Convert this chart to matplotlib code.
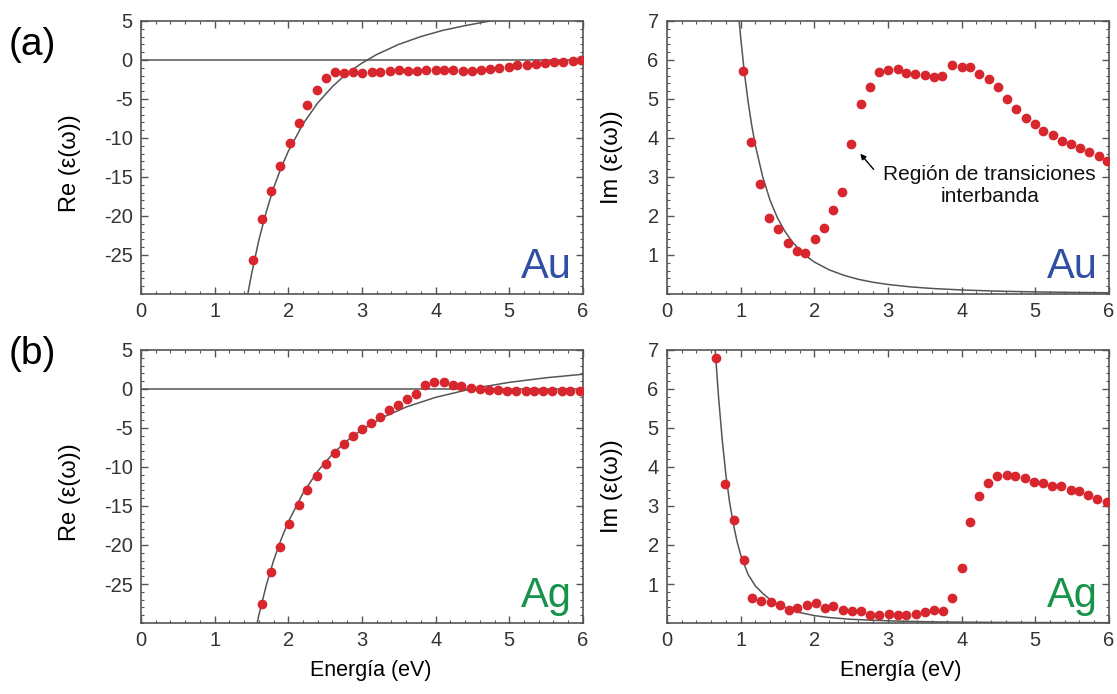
"""Dielectric function of Au and Ag: measured data (red dots) vs Drude model (grey line)."""

import matplotlib
matplotlib.use("Agg")
import matplotlib.pyplot as plt
from matplotlib.ticker import MultipleLocator

plt.rcParams["font.family"] = ["Liberation Sans", "DejaVu Sans"]
plt.rcParams["axes.unicode_minus"] = False

# Au, real part - measured
au_re_x = [1.52, 1.64, 1.76, 1.89, 2.02, 2.14, 2.26, 2.39, 2.51, 2.63, 2.76, 2.88,
           3.00, 3.13, 3.25, 3.38, 3.50, 3.62, 3.75, 3.87, 4.00, 4.12, 4.24, 4.37,
           4.49, 4.62, 4.74, 4.86, 4.99, 5.11, 5.24, 5.36, 5.48, 5.61, 5.73, 5.86, 5.98]
au_re_y = [-25.7, -20.4, -16.8, -13.6, -10.6, -8.1, -5.8, -3.9, -2.3, -1.6, -1.7, -1.6,
           -1.66, -1.6, -1.57, -1.36, -1.28, -1.36, -1.36, -1.23, -1.23, -1.23, -1.32, -1.36,
           -1.4, -1.32, -1.19, -1.02, -0.85, -0.68, -0.6, -0.47, -0.34, -0.3, -0.22, -0.12, -0.05]
# Au, real part - Drude
au_re_fit_x = [1.45, 1.5, 1.6, 1.7, 1.8, 1.9, 2.0, 2.2, 2.4, 2.6, 2.8, 3.0, 3.2, 3.5,
               3.8, 4.1, 4.4, 4.8]
au_re_fit_y = [-30.0, -27.5, -23.1, -19.5, -16.4, -13.9, -11.7, -8.2, -5.5, -3.4, -1.7,
               -0.4, 0.7, 2.0, 3.0, 3.8, 4.4, 5.1]

# Au, imaginary part - measured
au_im_x = [1.03, 1.14, 1.26, 1.39, 1.51, 1.64, 1.76, 1.88, 2.01, 2.13, 2.26, 2.38,
           2.50, 2.63, 2.75, 2.88, 3.00, 3.13, 3.25, 3.37, 3.50, 3.62, 3.74, 3.87,
           4.00, 4.12, 4.24, 4.37, 4.49, 4.62, 4.74, 4.87, 4.99, 5.11, 5.24, 5.36,
           5.48, 5.61, 5.73, 5.86, 5.98]
au_im_y = [5.72, 3.89, 2.83, 1.95, 1.66, 1.30, 1.10, 1.06, 1.41, 1.70, 2.15, 2.62,
           3.84, 4.87, 5.31, 5.68, 5.74, 5.76, 5.67, 5.63, 5.62, 5.57, 5.60, 5.86,
           5.82, 5.81, 5.63, 5.51, 5.30, 5.00, 4.75, 4.51, 4.37, 4.19, 4.08, 3.92,
           3.85, 3.74, 3.63, 3.53, 3.42]
# Au, imaginary part - Drude
au_im_fit_x = [0.98, 1.0, 1.05, 1.1, 1.15, 1.2, 1.3, 1.4, 1.5, 1.6, 1.7, 1.8, 1.9, 2.0,
               2.2, 2.4, 2.6, 2.8, 3.0, 3.3, 3.6, 4.0, 4.5, 5.0, 5.5, 6.0]
au_im_fit_y = [7.0, 6.59, 5.69, 4.95, 4.33, 3.81, 3.0, 2.40, 1.95, 1.61, 1.34, 1.13,
               0.96, 0.82, 0.62, 0.48, 0.375, 0.30, 0.244, 0.183, 0.141, 0.103, 0.072,
               0.053, 0.040, 0.031]

# Ag, real part - measured
ag_re_x = [1.64, 1.77, 1.89, 2.01, 2.14, 2.26, 2.39, 2.51, 2.63, 2.75, 2.88, 3.00,
           3.12, 3.24, 3.37, 3.49, 3.61, 3.73, 3.86, 3.98, 4.11, 4.23, 4.35, 4.48,
           4.60, 4.72, 4.85, 4.97, 5.09, 5.22, 5.34, 5.46, 5.58, 5.71, 5.83, 5.96]
ag_re_y = [-27.6, -23.5, -20.2, -17.3, -14.9, -12.9, -11.1, -9.64, -8.23, -7.07, -6.08,
           -5.18, -4.36, -3.54, -2.73, -2.04, -1.31, -0.67, 0.49, 0.88, 0.88, 0.54, 0.32,
           0.15, -0.02, -0.11, -0.19, -0.24, -0.24, -0.24, -0.28, -0.28, -0.28, -0.28,
           -0.28, -0.28]
# Ag, real part - Drude
ag_re_fit_x = [1.58, 1.6, 1.7, 1.8, 1.9, 2.0, 2.2, 2.4, 2.6, 2.8, 3.0, 3.3, 3.6, 4.0,
               4.5, 5.0, 5.5, 6.0]
ag_re_fit_y = [-29.9, -29.0, -25.2, -22.0, -19.34, -17.04, -13.34, -10.53, -8.34, -6.61,
               -5.21, -3.56, -2.31, -1.07, 0.05, 0.85, 1.44, 1.89]

# Ag, imaginary part - measured
ag_im_x = [0.66, 0.79, 0.91, 1.04, 1.16, 1.28, 1.41, 1.53, 1.65, 1.77, 1.90, 2.02,
           2.14, 2.26, 2.39, 2.51, 2.64, 2.76, 2.88, 3.01, 3.13, 3.25, 3.38, 3.50,
           3.62, 3.75, 3.87, 4.00, 4.12, 4.24, 4.36, 4.48, 4.61, 4.73, 4.86, 4.98,
           5.10, 5.23, 5.35, 5.48, 5.59, 5.72, 5.84, 5.97]
ag_im_y = [6.79, 3.57, 2.64, 1.61, 0.635, 0.557, 0.532, 0.471, 0.326, 0.394, 0.454,
           0.523, 0.386, 0.437, 0.343, 0.317, 0.30, 0.214, 0.205, 0.24, 0.214, 0.197,
           0.24, 0.29, 0.326, 0.30, 0.644, 1.40, 2.60, 3.25, 3.58, 3.77, 3.80, 3.76,
           3.71, 3.62, 3.59, 3.52, 3.50, 3.41, 3.38, 3.27, 3.19, 3.09]
# Ag, imaginary part - Drude
ag_im_fit_x = [0.655, 0.70, 0.75, 0.80, 0.85, 0.90, 0.95, 1.0, 1.1, 1.2, 1.3, 1.4, 1.5,
               1.6, 1.8, 2.0, 2.2, 2.5, 2.8, 3.2, 3.6, 4.0, 4.5, 5.0, 6.0]
ag_im_fit_y = [7.0, 5.8, 4.7, 3.8, 3.1, 2.55, 2.1, 1.75, 1.25, 0.95, 0.76, 0.60, 0.48,
               0.40, 0.27, 0.19, 0.14, 0.095, 0.07, 0.045, 0.03, 0.022, 0.016, 0.012,
               0.008]

red = "#d7262e"
grey = "#555555"
au_col = "#2e4fa3"
ag_col = "#17934b"

fig = plt.figure(figsize=(11.17, 6.94), dpi=100)
W, H = 0.3957, 0.3934
ax_a_re = fig.add_axes([0.1262, 0.5764, W, H])
ax_a_im = fig.add_axes([0.5971, 0.5764, W, H])
ax_b_re = fig.add_axes([0.1262, 0.1023, W, H])
ax_b_im = fig.add_axes([0.5971, 0.1023, W, H])


def style(ax, kind):
    ax.set_xlim(0, 6)
    ax.xaxis.set_major_locator(MultipleLocator(1))
    ax.xaxis.set_minor_locator(MultipleLocator(0.2))
    if kind == "re":
        ax.set_ylim(-30, 5)
        ax.set_yticks([5, 0, -5, -10, -15, -20, -25])
        ax.yaxis.set_minor_locator(MultipleLocator(1))
        ax.axhline(0, color=grey, lw=1.1, zorder=1)
        ax.set_ylabel("Re (ε(ω))", fontsize=17)
        ax.yaxis.set_label_coords(-0.135, 0.48)
    else:
        ax.set_ylim(0, 7)
        ax.set_yticks([1, 2, 3, 4, 5, 6, 7])
        ax.yaxis.set_minor_locator(MultipleLocator(0.2))
        ax.set_ylabel("Im (ε(ω))", fontsize=17)
        ax.yaxis.set_label_coords(-0.10, 0.5)
    ax.tick_params(which="both", direction="in", top=True, right=True, color=grey,
                   labelsize=14.5, labelcolor="#333333")
    ax.tick_params(which="major", length=5, width=1, pad=6)
    ax.tick_params(which="minor", length=2.5, width=0.8)
    for sp in ax.spines.values():
        sp.set_color(grey)
        sp.set_linewidth(1.2)


for ax, kind in [(ax_a_re, "re"), (ax_a_im, "im"), (ax_b_re, "re"), (ax_b_im, "im")]:
    style(ax, kind)

ax_a_re.plot(au_re_fit_x, au_re_fit_y, color=grey, lw=1.1, zorder=2)
ax_a_re.plot(au_re_x, au_re_y, "o", color=red, ms=6, zorder=3)
ax_a_im.plot(au_im_fit_x, au_im_fit_y, color=grey, lw=1.1, zorder=2)
ax_a_im.plot(au_im_x, au_im_y, "o", color=red, ms=6, zorder=3)
ax_b_re.plot(ag_re_fit_x, ag_re_fit_y, color=grey, lw=1.1, zorder=2)
ax_b_re.plot(ag_re_x, ag_re_y, "o", color=red, ms=6, zorder=3)
ax_b_im.plot(ag_im_fit_x, ag_im_fit_y, color=grey, lw=1.1, zorder=2)
ax_b_im.plot(ag_im_x, ag_im_y, "o", color=red, ms=6, zorder=3)

# metal labels
for ax, txt, col in [(ax_a_re, "Au", au_col), (ax_a_im, "Au", au_col),
                     (ax_b_re, "Ag", ag_col), (ax_b_im, "Ag", ag_col)]:
    ax.text(0.975, 0.06, txt, transform=ax.transAxes, ha="right", va="baseline",
            fontsize=30, color=col)

# annotation for interband region
ax_a_im.annotate("", xy=(2.6, 3.65), xytext=(2.83, 3.14),
                 arrowprops=dict(arrowstyle="-|>", color="black", lw=1.0,
                                 mutation_scale=8))
ax_a_im.text(4.38, 2.79, "Región de transiciones\ninterbanda", ha="center",
             va="center", multialignment="center", fontsize=15, color="#111111",
             linespacing=1.2)

for ax in (ax_b_re, ax_b_im):
    ax.set_xlabel("Energía (eV)", fontsize=15.5)
ax_b_re.xaxis.set_label_coords(0.52, -0.135)
ax_b_im.xaxis.set_label_coords(0.53, -0.135)

fig.text(0.008, 0.935, "(a)", fontsize=28, va="center", ha="left")
fig.text(0.008, 0.49, "(b)", fontsize=28, va="center", ha="left")

fig.savefig("out.png", dpi=100)
